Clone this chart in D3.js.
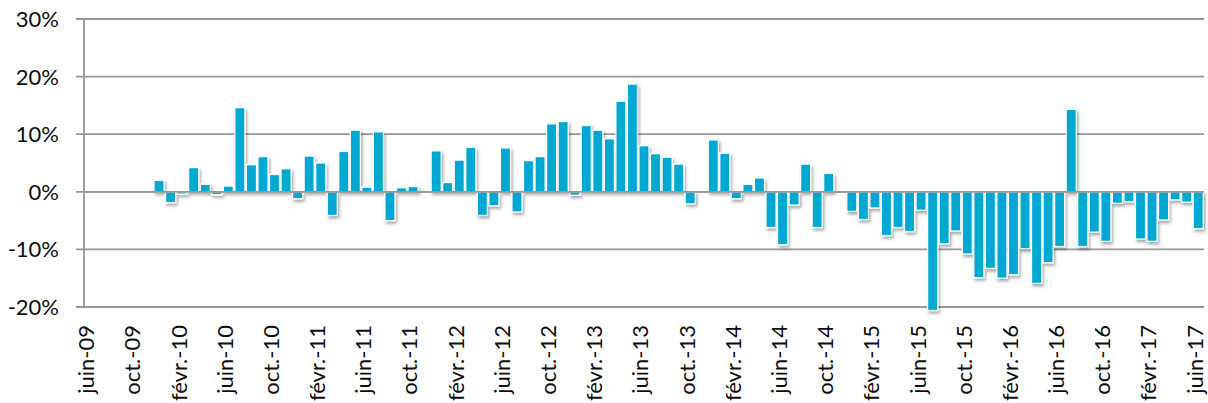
<!DOCTYPE html>
<html>
<head>
<meta charset="utf-8">
<script src="https://cdn.jsdelivr.net/npm/d3@7"></script>
<style>
  html, body { margin: 0; padding: 0; background: #fff; }
  svg { display: block; }
  text { font-family: Lato, "Open Sans", sans-serif; fill: #0d0d0d; }
</style>
</head>
<body>
<svg id="chart" width="1208" height="403"></svg>
<script>
// Monthly categories, June 2009 to June 2017
const monthNames = ["janv.", "févr.", "mars", "avr.", "mai", "juin", "juil.", "août", "sept.", "oct.", "nov.", "déc."];
const startYear = 2009, startMonth = 5, monthCount = 97;
const categories = [];
for (let k = 0; k < monthCount; k++) {
  const m = (startMonth + k) % 12;
  const yr = startYear + Math.floor((startMonth + k) / 12);
  categories.push(monthNames[m] + "-" + String(yr % 100).padStart(2, "0"));
}

// Year-on-year change, in percent (null = no data)
const values = [
  null, null, null, null, null, null, 2.0, -1.9, -0.4, 4.2, 1.3, -0.5,
  1.0, 14.6, 4.7, 6.1, 3.0, 4.0, -1.2, 6.2, 5.0, -4.1, 7.0, 10.7,
  0.8, 10.4, -5.0, 0.7, 0.9, null, 7.1, 1.6, 5.5, 7.7, -4.1, -2.4,
  7.6, -3.5, 5.4, 6.1, 11.8, 12.2, -0.6, 11.5, 10.7, 9.2, 15.7, 18.7,
  8.0, 6.6, 6.0, 4.8, -2.1, null, 9.0, 6.7, -1.2, 1.3, 2.4, -6.2,
  -9.2, -2.3, 4.8, -6.2, 3.2, null, -3.4, -4.8, -2.8, -7.6, -6.2, -6.9,
  -3.2, -20.6, -9.0, -6.8, -10.8, -14.9, -13.3, -15.0, -14.4, -9.9, -15.9, -12.3,
  -9.5, 14.3, -9.5, -7.0, -8.6, -2.0, -1.7, -8.2, -8.6, -4.9, -1.4, -1.8,
  -6.4
];

// Axis ticks
const yTicks = [-20, -10, 0, 10, 20, 30];
const xTickLabels = categories.filter((d, i) => i % 4 === 0);

const svg = d3.select("#chart");
const plotLeft = 84, plotRight = 1204, plotTop = 19, plotBottom = 307;

const x = d3.scaleBand().domain(categories).range([plotLeft, plotRight]).paddingInner(0.13).paddingOuter(0.065);
const y = d3.scaleLinear().domain([-20, 30]).range([plotBottom, plotTop]);

const defs = svg.append("defs");
const shadow = defs.append("filter").attr("id", "barShadow")
  .attr("x", "-50%").attr("y", "-20%").attr("width", "200%").attr("height", "140%");
shadow.append("feDropShadow")
  .attr("dx", 1.5).attr("dy", 2.5).attr("stdDeviation", 1.4)
  .attr("flood-color", "#000").attr("flood-opacity", 0.35);

// Horizontal gridlines with small ticks on the left
const grid = svg.append("g");
grid.selectAll("line").data(yTicks).join("line")
  .attr("x1", plotLeft - 8).attr("x2", plotRight)
  .attr("y1", d => y(d)).attr("y2", d => y(d))
  .attr("stroke", "#979797").attr("stroke-width", 1.8);

// Vertical axis line
svg.append("line")
  .attr("x1", plotLeft).attr("x2", plotLeft)
  .attr("y1", y(30)).attr("y2", y(-20))
  .attr("stroke", "#979797").attr("stroke-width", 1.8);

// Bars
svg.append("g").attr("filter", "url(#barShadow)")
  .selectAll("rect")
  .data(categories.map((c, i) => ({ c, v: values[i] })).filter(d => d.v !== null))
  .join("rect")
  .attr("x", d => x(d.c))
  .attr("width", x.bandwidth())
  .attr("y", d => y(Math.max(0, d.v)))
  .attr("height", d => Math.abs(y(d.v) - y(0)))
  .attr("fill", "#00A8D2")
  .attr("stroke", "#fff")
  .attr("stroke-width", 1.2);

// Zero line on top of the bars
svg.append("line")
  .attr("x1", plotLeft).attr("x2", plotRight)
  .attr("y1", y(0)).attr("y2", y(0))
  .attr("stroke", "#979797").attr("stroke-width", 1.8);

// Y tick labels
svg.append("g").selectAll("text").data(yTicks).join("text")
  .attr("x", 59).attr("y", d => y(d))
  .attr("dy", "0.36em")
  .attr("text-anchor", "end")
  .style("font-size", "22px")
  .text(d => d + "%");

// X tick labels, rotated
svg.append("g").selectAll("text").data(xTickLabels).join("text")
  .attr("transform", d => `translate(${x(d) + x.bandwidth() / 2},325) rotate(-90)`)
  .attr("dy", "0.2em")
  .attr("text-anchor", "end")
  .style("font-size", "22px")
  .text(d => d);
</script>
</body>
</html>
